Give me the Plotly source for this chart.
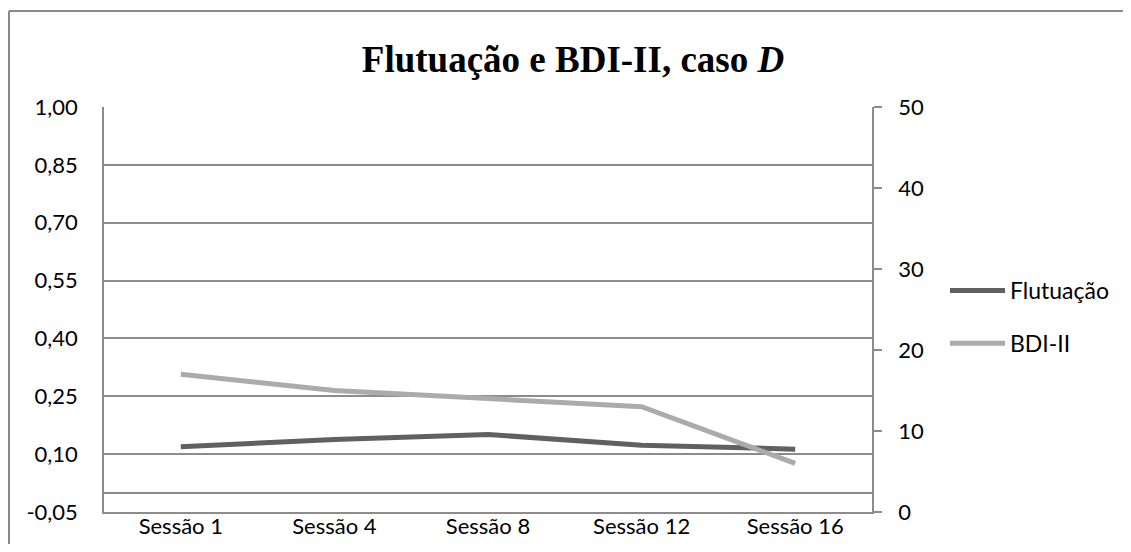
import plotly.graph_objects as go

categories = ["Sessão 1", "Sessão 4", "Sessão 8", "Sessão 12", "Sessão 16"]
flutuacao = [0.119, 0.138, 0.151, 0.123, 0.113]
bdi = [17, 15, 14, 13, 6]

left_ticks = [-0.05, 0.10, 0.25, 0.40, 0.55, 0.70, 0.85, 1.00]
left_labels = ["-0,05", "0,10", "0,25", "0,40", "0,55", "0,70", "0,85", "1,00"]
right_ticks = [0, 10, 20, 30, 40, 50]
right_labels = ["0", "10", "20", "30", "40", "50"]

OFF = 8  # page body margin (on every side)
W, H = 1131 - 2 * OFF, 552 - 2 * OFF
L, T = 104 - OFF, 107 - OFF
R = W - (872 - OFF)
B = H - (512 - OFF)
pw, ph = W - L - R, H - T - B

grid = "#8c8c8c"
border = "#8a8a8a"
font = "Lato, 'Open Sans', sans-serif"

fig = go.Figure()
fig.add_trace(go.Scatter(x=categories, y=flutuacao, name="Flutuação", mode="lines",
                         line=dict(color="#606060", width=5), legendgroup="a"))
fig.add_trace(go.Scatter(x=categories, y=bdi, name="BDI-II", mode="lines", yaxis="y2",
                         line=dict(color="#ababab", width=5), legendgroup="b"))

def px(x):
    # x in screenshot pixels
    return (x - OFF - L) / pw

def py(y):
    return (H - B - (y - OFF)) / ph

fig.update_layout(
    width=W, height=H,
    margin=dict(l=L, r=R, t=T, b=B, pad=0, autoexpand=False),
    paper_bgcolor="white", plot_bgcolor="white",
    font=dict(family=font, size=22, color="black"),
    title=dict(text="Flutuação e BDI-II, caso <i>D</i>", x=(573 - OFF) / W, xanchor="center",
               y=1 - (59 - OFF) / H, yanchor="middle",
               font=dict(family="'Liberation Serif', 'Times New Roman', serif", size=37, color="black", weight="bold")),
    xaxis=dict(type="category", range=[-0.5, 4.5], showgrid=False, showline=True, linecolor=grid,
               linewidth=1.5, ticks="", ticklabelstandoff=-6, tickfont=dict(size=22),
               fixedrange=True, automargin=False),
    yaxis=dict(range=[-0.05, 1.0], tickvals=left_ticks, ticktext=left_labels,
               showgrid=True, gridcolor=grid, gridwidth=1.5,
               zeroline=True, zerolinecolor=grid, zerolinewidth=1.5,
               showline=True, linecolor=grid, linewidth=1.5, ticks="",
               ticklabelstandoff=20, tickfont=dict(size=22), automargin=False),
    yaxis2=dict(range=[0, 50], tickvals=right_ticks, ticktext=right_labels, overlaying="y",
                side="right", showgrid=False, zeroline=False, showline=True, linecolor=grid,
                linewidth=1.5, ticks="outside", ticklen=8, tickcolor=grid, tickwidth=1.5,
                ticklabelstandoff=12, tickfont=dict(size=22), automargin=False),
    legend=dict(x=px(945), y=py(317), xanchor="left", yanchor="middle", tracegroupgap=20,
                itemwidth=55, font=dict(size=23), bgcolor="rgba(0,0,0,0)"),
    showlegend=True,
    shapes=[
        dict(type="line", xref="paper", yref="paper", x0=px(9), x1=px(1170),
             y0=py(11), y1=py(11), line=dict(color=border, width=2), layer="below"),
        dict(type="line", xref="paper", yref="paper", x0=px(9), x1=px(9),
             y0=py(11), y1=py(590), line=dict(color=border, width=2), layer="below"),
    ],
)

fig.write_html("out.html")
